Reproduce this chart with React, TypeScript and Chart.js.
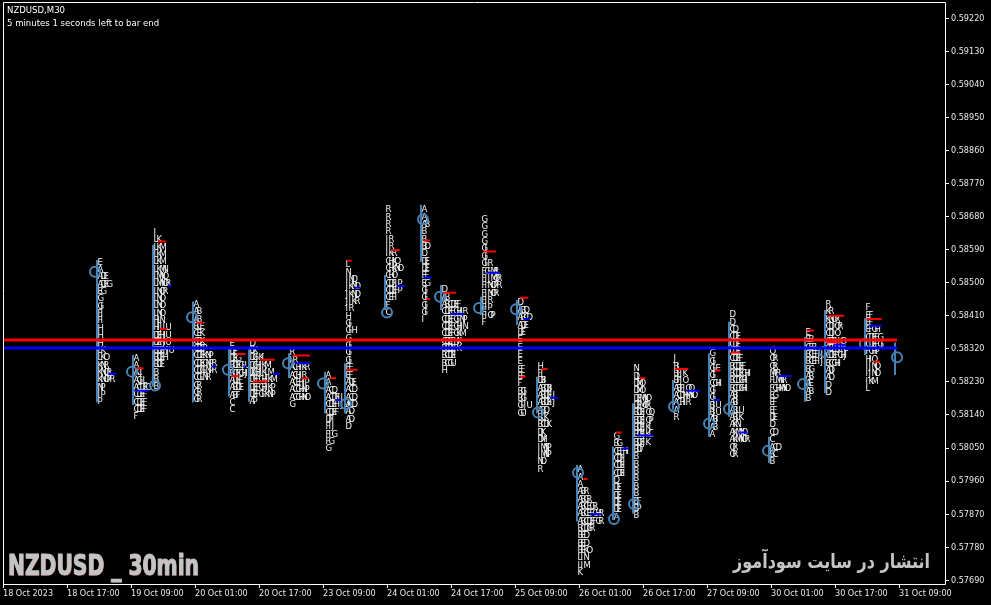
import React, { useEffect, useRef } from "react";
import { Chart, registerables } from "chart.js";

Chart.register(...registerables);

// ---------- texts ----------
const SYMBOL_TITLE = "NZDUSD,M30";
const TIMER_TEXT = "5 minutes 1 seconds left to bar end";
const WATERMARK_EN = "NZDUSD _ 30min";
const WATERMARK_FA = "انتشار در سایت سودآموز";

// ---------- axes ----------
const barMin = 0;
const barMax = 471; // M30 bars visible
const priceMin = 0.5768;
const priceMax = 0.59264;
const xTickBars = [0, 32, 64, 96, 128, 160, 192, 224, 256, 288, 320, 352, 384, 416, 448];
const xTickLabels = [
  "18 Oct 2023", "18 Oct 17:00", "19 Oct 09:00", "20 Oct 01:00", "20 Oct 17:00",
  "23 Oct 09:00", "24 Oct 01:00", "24 Oct 17:00", "25 Oct 09:00", "26 Oct 01:00",
  "26 Oct 17:00", "27 Oct 09:00", "30 Oct 01:00", "30 Oct 17:00", "31 Oct 09:00",
];
const yTickValues = [
  0.5769, 0.5778, 0.5787, 0.5796, 0.5805, 0.5814, 0.5823, 0.5832, 0.5841,
  0.585, 0.5859, 0.5868, 0.5877, 0.5886, 0.5895, 0.5904, 0.5913, 0.5922,
];

// ---------- market profile data ----------
const ROW_STEP = 0.0002; // price step of one TPO row
const LETTER_STEP = 1.5; // bars between consecutive TPO letters in a row
const profileBars = [47, 65, 75, 95, 113, 123, 143, 161, 171, 191, 209, 219, 239, 257, 267, 287, 305, 315, 335, 353, 363, 383, 401, 411, 431, 446];
const profileTopPrices = [
  0.58555, 0.58294, 0.58636, 0.5844, 0.58333, 0.58335, 0.58308, 0.58247, 0.58548, 0.58698,
  0.58698, 0.5848, 0.58671, 0.58444, 0.58272, 0.5799, 0.58081, 0.58265, 0.58292, 0.58306,
  0.58412, 0.58312, 0.58364, 0.5844, 0.58431, 0.58297,
];
const profileRows: string[][] = [
  ["E", "A", "ADE", "ADEG", "EG", "G", "GI", "FI", "FI", "H", "H", "H", "LK", "LKO", "KNR", "KNOR", "KNOPR", "NP", "IP", "P"],
  ["A", "A", "ACJ", "AGJL", "ACDEG", "CDEF", "CDEF", "CDEF", "F"],
  ["I", "LK", "LKM", "LKM", "LKM", "LKMN", "LMNO", "LMNOR", "LNOR", "LNO", "LNO", "LNO", "HLN", "HIJLU", "DEHJU", "DEHJU", "BDEHJU", "BDEH", "BDE", "B", "B", "B"],
  ["A", "AB", "AB", "BCE", "CEK", "CDK", "CDEP", "CDEKNP", "CDEGNPR", "CDGLNPR", "CGLNR", "GR", "GR", "GR"],
  ["E", "DE", "DEG", "BDEGJU", "BDEGHJU", "ADEF", "ABDE", "ABF", "C", "C"],
  ["D", "DK", "DGJKL", "DGHJKM", "DGHJKLM", "DEFGHJKM", "DEFGHJKP", "DEFGIKNP", "AP"],
  ["R", "IR", "ACHIKR", "ACHIR", "ACEHIP", "ACGHNP", "ACGHNO", "G"],
  ["A", "A", "ACD", "ACDEIJ", "CDEFIJU", "CDEF", "DFI", "FIJ", "FIG", "FG", "G"],
  ["L", "N", "IND", "JKND", "JKND", "JIKR", "IR", "H", "GI", "GIH", "G", "GI", "GI", "GI", "EF", "EF", "ADE", "ACD", "ACD", "ACD", "AD", "AD", "D"],
  ["R", "R", "R", "R", "IR", "IR", "IKR", "CHKO", "CHKNO", "CHO", "CDFLP", "CDEFP", "CEFI", "F", "C"],
  ["A", "A", "AB", "B", "B", "BD", "D", "DE", "DE", "EF", "EG", "GI", "GI", "GI", "GI", "I"],
  ["D", "AB", "ABCDEF", "CDEFGHJR", "CDEFGINP", "CDEFGHIN", "CDEFGKM", "CDEFHK", "BCDEFK", "BCDEI", "BCGU", "H"],
  ["G", "G", "G", "G", "GI", "GI", "GIR", "FGIMR", "FIJMOR", "FINOPR", "FINOR", "FIR", "FIP", "FIOP", "F"],
  ["D", "ABD", "ABCD", "ADE", "DE", "E", "E", "E", "E", "EF", "EF", "F", "BGI", "BGI", "GIJU", "GU"],
  ["H", "FI", "DBI", "ABDBI", "ABDEIJ", "ABDEIJ", "ABD", "BCK", "BCDK", "DK", "DMI", "IMNP", "IMNP", "ND", "R"],
  ["A", "A", "A", "ABR", "ABGR", "ABCEGR", "ABCEFGHR", "ABCDEFGR", "BCDGR", "BED", "BED", "BEKO", "LIN", "LIM", "K"],
  ["G", "BG", "CEFHI", "CDFI", "CDEI", "CDEI", "D", "DE", "DE", "DE", "DE", "A"],
  ["N", "DL", "DMO", "DMO", "DEMNO", "DEMOR", "BDEJOQ", "BDEJOP", "BDEJKL", "BDEJKL", "BDEJK", "BDI", "B", "B", "B", "B", "B", "B", "BF", "BP", "B"],
  ["J", "BJ", "BFJK", "BFJO", "ABFJOQ", "ACDHMNO", "ACHIR", "A", "R"],
  ["G", "GI", "GIE", "GI", "CGHI", "GI", "GJ", "BJU", "BJU", "ABJ", "AB", "A"],
  ["D", "D", "CD", "CDE", "CDE", "CDE", "CDEF", "BCDEF", "BCDEGHI", "BCDGHI", "BCDGHI", "ABI", "ABI", "ABLU", "ABLK", "AKN", "AKMNO", "AKMNOR", "OR", "OR"],
  ["O", "OR", "OR", "MPR", "FLMNR", "FGHMNO", "EG", "EF", "EF", "DE", "D", "CD", "C", "ACD", "BC", "B"],
  ["E", "EB", "CEFI", "BCEFIJ", "BCEFIJ", "BG", "AB", "AE", "AB", "B"],
  ["R", "KR", "KNOR", "CDIOR", "CDJO", "CDEJKO", "CEFHJKL", "CDEFGHJ", "BCGHI", "ADI", "AD", "D", "D"],
  ["F", "EF", "EF", "EFGH", "CDEFG", "CDEFGI", "FGHP", "HIO", "IJNO", "IJNO", "IKM", "L"],
  [],
];
const profileLineTop = [
  0.58562, 0.58303, 0.58603, 0.58449, 0.58326, 0.58326, 0.58308, 0.58258, 0.58281, 0.58521,
  0.58712, 0.58494, 0.58462, 0.58453, 0.58244, 0.58004, 0.58054, 0.58172, 0.58235, 0.58308,
  0.58394, 0.58081, 0.58353, 0.58426, 0.58403, 0.58337,
];
const profileLineBottom = [
  0.58175, 0.58167, 0.58217, 0.58174, 0.5819, 0.58176, 0.5824, 0.58145, 0.58145, 0.58426,
  0.58557, 0.58426, 0.58412, 0.58385, 0.58145, 0.5785, 0.57854, 0.57872, 0.58154, 0.58081,
  0.58135, 0.58009, 0.58176, 0.58199, 0.58303, 0.58249,
];
// open-price circles
const openBars = [46, 64.5, 76, 94.5, 112.5, 142.5, 160, 171.5, 192, 210, 218.5, 238, 256.5, 267.5, 287.5, 305.5, 315.5, 335.5, 353, 363, 382.5, 400, 410.5, 431, 447];
const openPrices = [
  0.5853, 0.58258, 0.5822, 0.58406, 0.58263, 0.58281, 0.58226, 0.5817, 0.58419, 0.58673,
  0.58462, 0.58431, 0.58428, 0.58147, 0.57983, 0.57857, 0.57898, 0.58163, 0.58117, 0.58156,
  0.58043, 0.58224, 0.58312, 0.58333, 0.58297,
];
// short marks: [price, fromBar, toBar]
const redMarks: [number, number, number][] = [
  [0.58267, 66.8, 70.2], [0.58612, 77.5, 81.5], [0.58374, 78.5, 82], [0.58391, 96.8, 100.2],
  [0.58306, 116.8, 121.3], [0.58246, 114.3, 118.2], [0.5829, 128.5, 136], [0.58231, 125, 132.5],
  [0.58302, 144.8, 153.5], [0.5824, 149.3, 152.7], [0.5824, 163.2, 166.5], [0.5856, 172.3, 174.3],
  [0.58263, 171.8, 177.3], [0.58589, 194.3, 198.2], [0.58615, 210.5, 213.5], [0.58456, 211.8, 213.5],
  [0.58473, 220.2, 226.5], [0.58585, 240.2, 246.5], [0.58459, 258.5, 262.7], [0.58244, 258.5, 261.3],
  [0.58265, 269.3, 272.3], [0.57966, 290.2, 292.3], [0.58092, 306.5, 309.3], [0.5824, 318.5, 321.3],
  [0.58265, 336, 342.7], [0.58261, 356, 358.5], [0.5831, 363.8, 368.5], [0.58326, 384.8, 386],
  [0.5837, 401.8, 405.5], [0.5841, 412.7, 420.5], [0.58338, 411.8, 419.3], [0.58401, 431.8, 439.3],
  [0.58285, 435.2, 438.5],
];
const blueMarks: [number, number, number][] = [
  [0.58252, 52.7, 56.8], [0.58206, 66, 72.7], [0.58492, 82.5, 84.3], [0.58272, 104.3, 106.5],
  [0.58272, 120.2, 121.8], [0.58252, 135, 138.5], [0.58281, 146, 153.5], [0.58181, 166, 168.8],
  [0.58486, 176, 178.5], [0.58491, 196.8, 201], [0.58514, 210.2, 214.3], [0.58415, 223.5, 230.5],
  [0.58527, 241.8, 248.5], [0.58401, 260.2, 263.5], [0.58187, 273.5, 277.7], [0.5787, 293.5, 299.3],
  [0.58049, 309.3, 312.7], [0.58084, 316.8, 325.2], [0.58206, 341.8, 348.5], [0.58181, 355.2, 358.5],
  [0.58092, 367.7, 372.2], [0.58246, 387.7, 394.3], [0.58331, 415.2, 421.5], [0.58383, 432.7, 439.3],
];
// current levels (long lines)
const levelRedPrice = 0.58344;
const levelBluePrice = 0.58322;
const levelFromBar = 0;
const levelToBar = 447;

// ---------- styles ----------
const AXIS_FONT = '"DejaVu Sans Condensed", "DejaVu Sans", sans-serif';
const LETTER_FONT = '"DejaVu Sans", sans-serif';
const STEEL = "#4682b4";

function segments(list: [number, number, number][]) {
  return list.flatMap(([p, a, b]) => [
    { x: a, y: p },
    { x: b, y: p },
    { x: b, y: null as any },
  ]);
}

const mpPlugin = {
  id: "marketProfile",
  beforeDraw(chart: any) {
    const { ctx, width, height } = chart;
    ctx.save();
    ctx.fillStyle = "#000";
    ctx.fillRect(0, 0, width, height);
    ctx.restore();
  },
  beforeDatasetsDraw(chart: any) {
    const { ctx, chartArea } = chart;
    const xs = chart.scales.x;
    const ys = chart.scales.y;
    ctx.save();
    ctx.beginPath();
    ctx.rect(chartArea.left, chartArea.top, chartArea.right - chartArea.left, chartArea.bottom - chartArea.top);
    ctx.clip();
    ctx.font = `8.5px ${LETTER_FONT}`;
    ctx.textBaseline = "middle";
    ctx.textAlign = "left";
    ctx.fillStyle = "#f4f4f4";
    profileRows.forEach((rows, i) => {
      rows.forEach((row, j) => {
        const py = ys.getPixelForValue(profileTopPrices[i] - j * ROW_STEP);
        for (let k = 0; k < row.length; k++) {
          const px = xs.getPixelForValue(profileBars[i] + k * LETTER_STEP);
          ctx.fillText(row[k], px + 0.5, py);
        }
      });
    });
    ctx.restore();
  },
  afterDraw(chart: any) {
    const { ctx, chartArea } = chart;
    const { left, top, right, bottom } = chartArea;
    ctx.save();
    // frame
    ctx.strokeStyle = "#ffffff";
    ctx.lineWidth = 1;
    ctx.beginPath();
    ctx.moveTo(left + 0.5, bottom + 0.5);
    ctx.lineTo(left + 0.5, top + 0.5);
    ctx.lineTo(right + 0.5, top + 0.5);
    ctx.lineTo(right + 0.5, bottom + 0.5);
    ctx.lineTo(left + 0.5, bottom + 0.5);
    ctx.stroke();

    // title lines
    ctx.fillStyle = "#ffffff";
    ctx.font = `9.5px ${AXIS_FONT}`;
    ctx.textBaseline = "middle";
    ctx.textAlign = "left";
    ctx.fillText(SYMBOL_TITLE, left + 4, top + 9);
    ctx.fillText(TIMER_TEXT, left + 4, top + 22);

    // english watermark
    ctx.font = `bold 29px "Liberation Sans Narrow", "DejaVu Sans Condensed", "DejaVu Sans", sans-serif`;
    ctx.textBaseline = "alphabetic";
    const wEn = ctx.measureText(WATERMARK_EN).width;
    ctx.save();
    ctx.translate(left + 5, bottom - 9);
    ctx.scale(191 / wEn, 1);
    ctx.lineJoin = "round";
    ctx.fillStyle = "#4a0c0c";
    ctx.fillText(WATERMARK_EN, 1, 1);
    ctx.fillStyle = "#c4c4c4";
    ctx.strokeStyle = "#c4c4c4";
    ctx.lineWidth = 1.2;
    ctx.fillText(WATERMARK_EN, 0, 0);
    ctx.strokeText(WATERMARK_EN, 0, 0);
    ctx.restore();

    // persian watermark
    ctx.font = `bold 20px "DejaVu Sans", sans-serif`;
    ctx.direction = "rtl";
    ctx.textAlign = "right";
    const wFa = ctx.measureText(WATERMARK_FA).width;
    ctx.save();
    ctx.translate(right - 15, bottom - 16);
    ctx.scale(197 / wFa, 1);
    ctx.fillStyle = "#c4c4c4";
    ctx.fillText(WATERMARK_FA, 0, 0);
    ctx.restore();
    ctx.restore();
  },
};

export default function App() {
  const ref = useRef<HTMLCanvasElement | null>(null);

  useEffect(() => {
    document.body.style.margin = "0";
    document.body.style.background = "#000";
    const canvas = ref.current;
    if (!canvas) return;

    const profileLineData = profileBars.flatMap((b, i) => [
      { x: b, y: profileLineTop[i] },
      { x: b, y: profileLineBottom[i] },
      { x: b, y: null as any },
    ]);
    const openData = openBars.map((b, i) => ({ x: b, y: openPrices[i] }));

    const lineBase = {
      type: "line" as const,
      pointRadius: 0,
      pointHoverRadius: 0,
      pointHitRadius: 0,
      spanGaps: false,
      tension: 0,
      fill: false,
    };

    const chart = new Chart(canvas, {
      type: "line",
      data: {
        datasets: [
          {
            ...lineBase,
            label: "red level",
            data: [
              { x: levelFromBar, y: levelRedPrice },
              { x: levelToBar, y: levelRedPrice },
            ],
            borderColor: "#ff0000",
            borderWidth: 3,
          },
          {
            ...lineBase,
            label: "blue level",
            data: [
              { x: levelFromBar, y: levelBluePrice },
              { x: levelToBar, y: levelBluePrice },
            ],
            borderColor: "#0000ff",
            borderWidth: 3,
          },
          {
            ...lineBase,
            label: "red marks",
            data: segments(redMarks),
            borderColor: "#ff0000",
            borderWidth: 2,
          },
          {
            ...lineBase,
            label: "blue marks",
            data: segments(blueMarks),
            borderColor: "#0000ff",
            borderWidth: 2,
          },
          {
            type: "scatter" as const,
            label: "open",
            data: openData,
            pointRadius: 5,
            pointHoverRadius: 5,
            pointBorderWidth: 2,
            pointBorderColor: STEEL,
            pointBackgroundColor: "rgba(0,0,0,0)",
            showLine: false,
          } as any,
          {
            ...lineBase,
            label: "profile range",
            data: profileLineData,
            borderColor: STEEL,
            borderWidth: 2,
          },
        ] as any,
      },
      options: {
        responsive: false,
        maintainAspectRatio: false,
        devicePixelRatio: 1,
        animation: false,
        events: [],
        layout: { autoPadding: false, padding: { left: 3, top: 2, right: 0, bottom: 0 } },
        plugins: {
          legend: { display: false },
          tooltip: { enabled: false },
          title: { display: false },
        },
        scales: {
          x: {
            type: "linear",
            min: barMin,
            max: barMax,
            afterBuildTicks: (s: any) => {
              s.ticks = xTickBars.map((v) => ({ value: v }));
            },
            afterFit: (s: any) => {
              s.height = 21;
              s.paddingLeft = 0;
              s.paddingRight = 0;
            },
            ticks: {
              autoSkip: false,
              maxRotation: 0,
              minRotation: 0,
              align: "start",
              padding: 0,
              color: "#e8e8e8",
              font: { family: AXIS_FONT, size: 9 },
              callback: (v: any) => {
                const i = xTickBars.indexOf(Number(v));
                return i >= 0 ? xTickLabels[i] : "";
              },
            },
            grid: {
              display: true,
              drawOnChartArea: false,
              drawTicks: true,
              tickLength: 4,
              color: "#ffffff",
            },
            border: { display: false },
          },
          y: {
            type: "linear",
            position: "right",
            min: priceMin,
            max: priceMax,
            afterBuildTicks: (s: any) => {
              s.ticks = yTickValues.map((v) => ({ value: v }));
            },
            afterFit: (s: any) => {
              s.width = 46;
              s.paddingTop = 0;
              s.paddingBottom = 0;
            },
            ticks: {
              autoSkip: false,
              padding: 2,
              color: "#e8e8e8",
              font: { family: AXIS_FONT, size: 9 },
              callback: (v: any) => Number(v).toFixed(5),
            },
            grid: {
              display: true,
              drawOnChartArea: false,
              drawTicks: true,
              tickLength: 4,
              color: "#ffffff",
            },
            border: { display: false },
          },
        },
      } as any,
      plugins: [mpPlugin],
    });

    return () => chart.destroy();
  }, []);

  return (
    <div style={{ position: "fixed", left: 0, top: 0, width: 991, height: 605, background: "#000" }}>
      <canvas ref={ref} width={991} height={605} style={{ display: "block", width: 991, height: 605 }} />
    </div>
  );
}
